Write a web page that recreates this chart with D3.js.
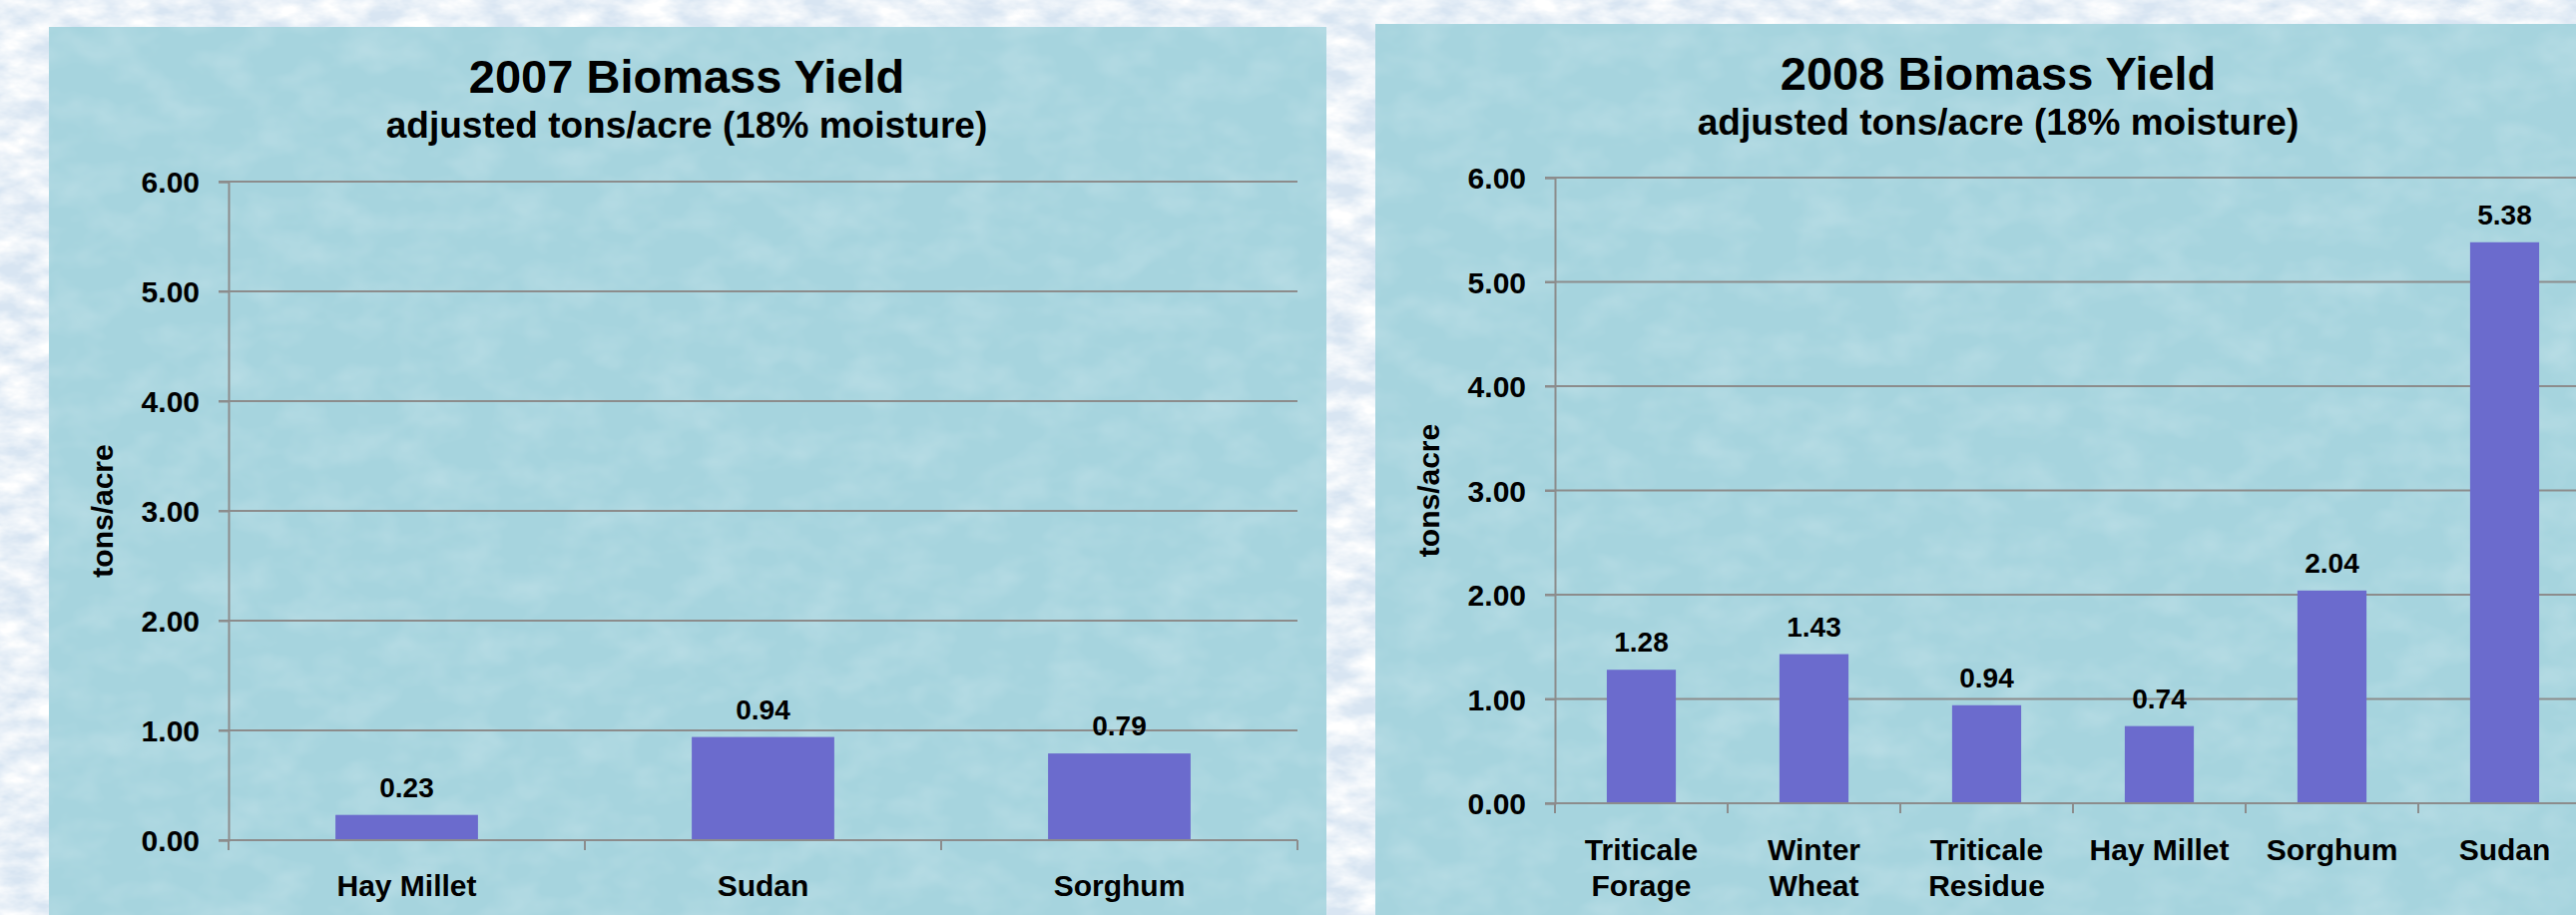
<!DOCTYPE html>
<html>
<head>
<meta charset="utf-8">
<script src="https://cdn.jsdelivr.net/npm/d3@7"></script>
<style>
  html, body { margin: 0; padding: 0; background: #e2ecf6; }
  svg { display: block; }
  text { font-family: "Liberation Sans", Arial, Helvetica, sans-serif; font-weight: bold; fill: #000; }
</style>
</head>
<body>
<svg id="chart" width="2581" height="917"></svg>
<script>
// ---- data ----
const categories2007 = ["Hay Millet", "Sudan", "Sorghum"];
const yields2007 = [0.23, 0.94, 0.79];

const categories2008 = ["Triticale\nForage", "Winter\nWheat", "Triticale\nResidue", "Hay Millet", "Sorghum", "Sudan"];
const yields2008 = [1.28, 1.43, 0.94, 0.74, 2.04, 5.38];

const yTickValues = [0, 1, 2, 3, 4, 5, 6];
const titles = ["2007 Biomass Yield", "2008 Biomass Yield"];
const subtitle = "adjusted tons/acre (18% moisture)";
const yAxisTitle = "tons/acre";

// ---- styling ----
const PANEL = "#a6d4de";
const BAR = "#6b6bcd";
const GRID = "#8c8c8c";

const svg = d3.select("#chart");
const defs = svg.append("defs");

// mottled light background texture
const marble = defs.append("filter").attr("id", "marble")
  .attr("x", 0).attr("y", 0).attr("width", 1).attr("height", 1);
marble.append("feTurbulence").attr("type", "fractalNoise")
  .attr("baseFrequency", "0.025 0.05").attr("numOctaves", 4).attr("seed", 7);
marble.append("feColorMatrix").attr("type", "matrix")
  .attr("values", "0 0 0 0 1  0 0 0 0 1  0 0 0 0 1  2.0 0 0 0 -0.55");

// faint grain inside the chart panels
const grain = defs.append("filter").attr("id", "grain")
  .attr("x", 0).attr("y", 0).attr("width", 1).attr("height", 1);
grain.append("feTurbulence").attr("type", "fractalNoise")
  .attr("baseFrequency", "0.02 0.03").attr("numOctaves", 3).attr("seed", 2);
grain.append("feColorMatrix").attr("type", "matrix")
  .attr("values", "0 0 0 0 0.8  0 0 0 0 0.9  0 0 0 0 0.93  0.5 0 0 0 -0.2");

svg.append("rect").attr("width", 2581).attr("height", 917).attr("fill", "#d8e5f2");
svg.append("rect").attr("width", 2581).attr("height", 917).attr("fill", "#fff").attr("filter", "url(#marble)");

function drawChart(cfg) {
  const g = svg.append("g");

  // panel
  g.append("rect").attr("x", cfg.panel[0]).attr("y", cfg.panel[1])
    .attr("width", cfg.panel[2]).attr("height", cfg.panel[3]).attr("fill", PANEL);
  g.append("rect").attr("x", cfg.panel[0]).attr("y", cfg.panel[1])
    .attr("width", cfg.panel[2]).attr("height", cfg.panel[3])
    .attr("fill", "#fff").attr("filter", "url(#grain)");

  const x = d3.scaleBand().domain(cfg.categories)
    .range([cfg.plot.left, cfg.plot.right]).paddingInner(0.6).paddingOuter(0.3);
  const y = d3.scaleLinear().domain([0, 6]).range([cfg.plot.bottom, cfg.plot.top]);

  // titles
  g.append("text").attr("x", cfg.titleX).attr("y", cfg.titleY)
    .attr("text-anchor", "middle").attr("font-size", 47).text(cfg.title);
  g.append("text").attr("x", cfg.titleX).attr("y", cfg.titleY + 45)
    .attr("text-anchor", "middle").attr("font-size", 37).text(subtitle);

  // horizontal gridlines (with tick stubs extending left of the axis)
  g.append("g").selectAll("line").data(yTickValues).join("line")
    .attr("x1", cfg.plot.left - 10).attr("x2", cfg.plot.right)
    .attr("y1", d => y(d)).attr("y2", d => y(d))
    .attr("stroke", GRID).attr("stroke-width", 2);

  // y axis
  const yAxis = g.append("g").attr("transform", `translate(${cfg.plot.left},0)`)
    .call(d3.axisLeft(y).tickValues(yTickValues).tickFormat(d3.format(".2f")).tickSize(10).tickPadding(19));
  yAxis.attr("font-family", null);
  yAxis.select(".domain").attr("stroke", GRID).attr("stroke-width", 2);
  yAxis.selectAll(".tick line").attr("stroke", GRID).attr("stroke-width", 2);
  yAxis.selectAll(".tick text").attr("font-size", 30).attr("fill", "#000").attr("dy", "0.35em");

  // y axis title
  g.append("text")
    .attr("transform", `translate(${cfg.yTitleX},${(y(0) + y(6)) / 2}) rotate(-90)`)
    .attr("text-anchor", "middle").attr("font-size", 30).text(yAxisTitle);

  // bars
  const data = cfg.categories.map((c, i) => ({ c, v: cfg.values[i] }));
  g.append("g").selectAll("rect").data(data).join("rect")
    .attr("x", d => x(d.c)).attr("width", x.bandwidth())
    .attr("y", d => y(d.v)).attr("height", d => y(0) - y(d.v))
    .attr("fill", BAR);

  // x axis baseline and category separators
  g.append("line").attr("x1", cfg.plot.left).attr("x2", cfg.plot.right)
    .attr("y1", y(0)).attr("y2", y(0)).attr("stroke", GRID).attr("stroke-width", 2);
  const edges = cfg.categories.map(c => x(c) - x.step() * x.paddingOuter());
  edges.push(cfg.plot.right);
  g.append("g").selectAll("line").data(edges).join("line")
    .attr("x1", d => d).attr("x2", d => d)
    .attr("y1", y(0)).attr("y2", y(0) + 10)
    .attr("stroke", GRID).attr("stroke-width", 2);

  // category labels
  const labels = g.append("g").selectAll("text").data(data).join("text")
    .attr("text-anchor", "middle").attr("font-size", 30)
    .attr("x", d => x(d.c) + x.bandwidth() / 2)
    .attr("y", y(0) + cfg.catOffset);
  labels.selectAll("tspan").data(d => d.c.split("\n").map(t => ({ t, x: x(d.c) + x.bandwidth() / 2 })))
    .join("tspan").attr("x", t => t.x).attr("dy", (t, i) => i === 0 ? 0 : 36).text(t => t.t);

  // value labels
  g.append("g").selectAll("text").data(data).join("text")
    .attr("text-anchor", "middle").attr("font-size", 28)
    .attr("x", d => x(d.c) + x.bandwidth() / 2)
    .attr("y", d => y(d.v) - 18)
    .text(d => d3.format(".2f")(d.v));
}

drawChart({
  panel: [49, 27, 1280, 920],
  plot: { left: 229, right: 1300, top: 182, bottom: 842 },
  categories: categories2007, values: yields2007,
  title: titles[0], titleX: 688, titleY: 93,
  yTitleX: 113, catOffset: 56
});

drawChart({
  panel: [1378, 24, 1300, 920],
  plot: { left: 1558, right: 2596, top: 178, bottom: 805 },
  categories: categories2008, values: yields2008,
  title: titles[1], titleX: 2002, titleY: 90,
  yTitleX: 1442, catOffset: 57
});
</script>
</body>
</html>
